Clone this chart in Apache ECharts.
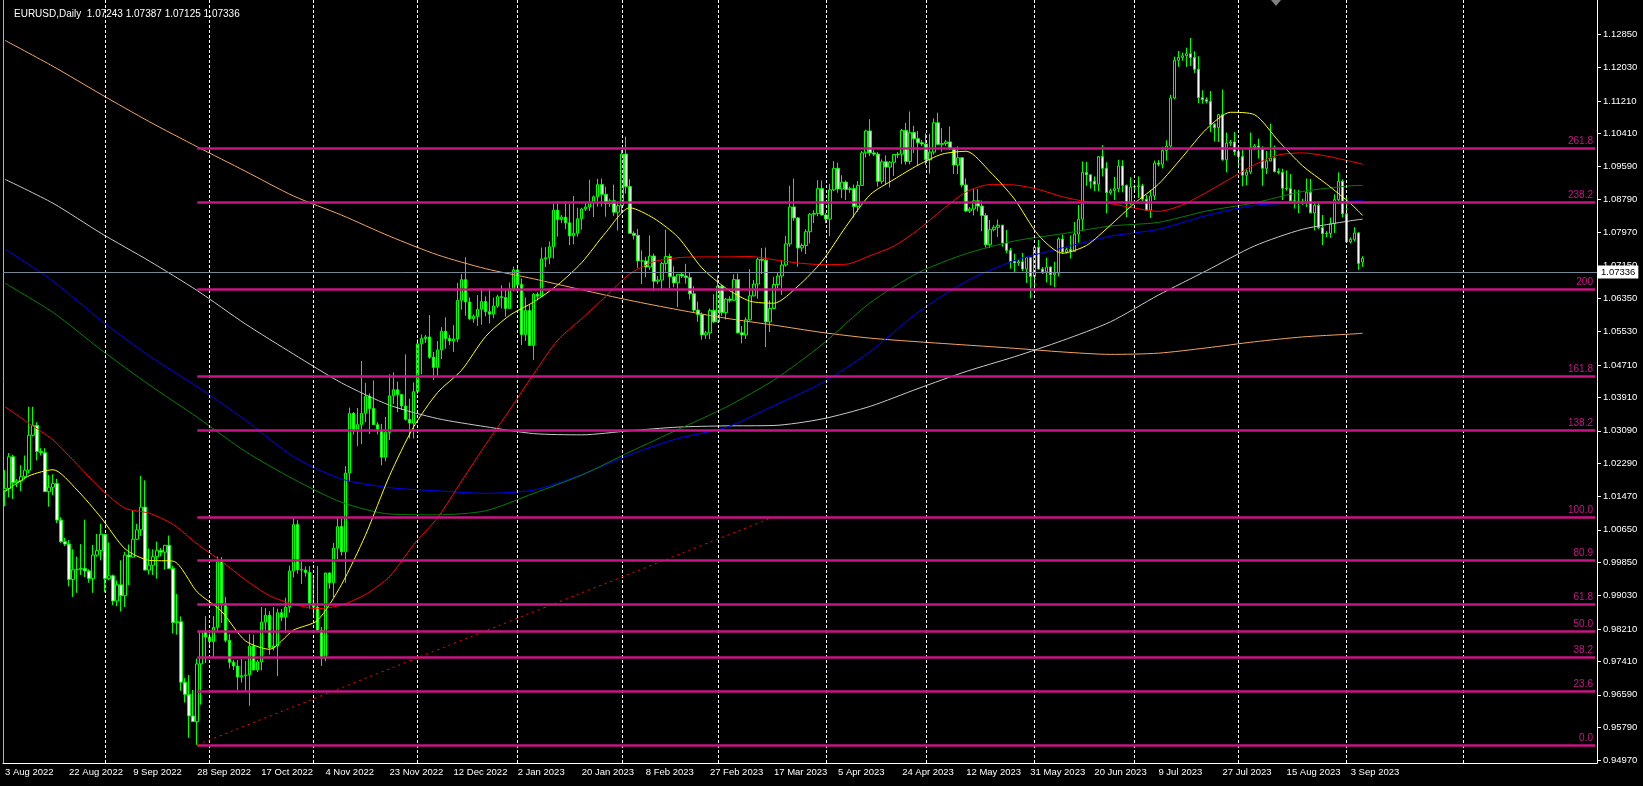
<!DOCTYPE html>
<html>
<head>
<meta charset="utf-8">
<title>EURUSD,Daily</title>
<script src="https://cdn.jsdelivr.net/npm/echarts@6/dist/echarts.min.js"></script>
<style>
html, body { margin: 0; padding: 0; background: #000; }
#chart { width: 1643px; height: 786px; }
</style>
</head>
<body>
<div id="chart"></div>
<script>
// daily bars, broker week Sun..Fri (short Sunday bars), [open, high, low, close]
const bars = [
  [1.0162,1.0212,1.0123,1.0167],[1.0167,1.0254,1.0145,1.0245],[1.0245,1.0250,1.0141,1.0181],[1.0181,1.0190,1.0170,1.0185],
  [1.0185,1.0224,1.0160,1.0196],[1.0196,1.0248,1.0189,1.0212],[1.0212,1.0368,1.0204,1.0298],[1.0298,1.0368,1.0295,1.0322],
  [1.0322,1.0330,1.0236,1.0258],[1.0258,1.0266,1.0248,1.0255],[1.0255,1.0266,1.0160,1.0159],[1.0159,1.0200,1.0122,1.0170],
  [1.0170,1.0202,1.0150,1.0179],[1.0179,1.0191,1.0082,1.0089],[1.0089,1.0096,1.0033,1.0036],[1.0036,1.0045,1.0025,1.0030],
  [1.0030,1.0040,0.9926,0.9943],[0.9943,1.0017,0.9900,0.9967],[0.9967,0.9999,0.9910,0.9968],[0.9968,1.0030,0.9954,0.9970],
  [0.9970,1.0090,0.9949,0.9964],[0.9964,0.9968,0.9935,0.9945],[0.9945,1.0028,0.9910,1.0003],[1.0003,1.0055,0.9999,1.0014],
  [1.0014,1.0080,0.9990,1.0054],[1.0054,1.0055,0.9911,0.9945],[0.9945,1.0034,0.9941,0.9952],[0.9952,0.9955,0.9880,0.9890],
  [0.9890,0.9940,0.9877,0.9930],[0.9930,0.9990,0.9864,0.9903],[0.9903,1.0011,0.9875,1.0003],[1.0003,1.0029,0.9929,0.9998],
  [0.9998,1.0113,0.9997,1.0042],[1.0042,1.0080,1.0040,1.0065],[1.0065,1.0198,1.0050,1.0121],[1.0121,1.0187,0.9966,0.9966],
  [0.9966,1.0019,0.9955,0.9978],[0.9978,1.0017,0.9954,0.9999],[0.9999,1.0036,0.9945,1.0014],[1.0014,1.0020,1.0000,1.0010],
  [1.0010,1.0028,0.9967,1.0027],[1.0027,1.0051,0.9970,0.9970],[0.9970,0.9976,0.9810,0.9837],[0.9837,0.9907,0.9807,0.9839],
  [0.9839,0.9852,0.9669,0.9690],[0.9690,0.9700,0.9640,0.9660],[0.9660,0.9708,0.9553,0.9607],[0.9607,0.9671,0.9592,0.9593],
  [0.9593,0.9748,0.9536,0.9735],[0.9735,0.9815,0.9635,0.9815],[0.9815,0.9853,0.9737,0.9801],[0.9801,0.9810,0.9780,0.9790],
  [0.9790,0.9853,0.9750,0.9825],[0.9825,0.9999,0.9815,0.9987],[0.9987,0.9998,0.9836,0.9883],[0.9883,0.9900,0.9788,0.9793],
  [0.9793,0.9809,0.9724,0.9739],[0.9739,0.9745,0.9720,0.9730],[0.9730,0.9745,0.9671,0.9703],[0.9703,0.9747,0.9689,0.9706],
  [0.9706,0.9742,0.9668,0.9708],[0.9708,0.9809,0.9632,0.9779],[0.9779,0.9807,0.9720,0.9720],[0.9720,0.9745,0.9715,0.9740],
  [0.9740,0.9875,0.9719,0.9838],[0.9838,0.9873,0.9817,0.9855],[0.9855,0.9865,0.9758,0.9775],[0.9775,0.9875,0.9768,0.9779],
  [0.9779,0.9871,0.9705,0.9861],[0.9861,0.9870,0.9840,0.9850],[0.9850,0.9898,0.9811,0.9875],[0.9875,0.9977,0.9861,0.9964],
  [0.9964,1.0094,0.9948,1.0078],[1.0078,1.0089,0.9957,0.9967],[0.9967,0.9987,0.9932,0.9966],[0.9966,0.9975,0.9950,0.9960],
  [0.9960,0.9976,0.9871,0.9883],[0.9883,0.9953,0.9850,0.9875],[0.9875,0.9976,0.9813,0.9818],[0.9818,0.9826,0.9730,0.9749],
  [0.9749,0.9958,0.9742,0.9959],[0.9959,0.9960,0.9920,0.9935],[0.9935,1.0033,0.9899,1.0020],[1.0020,1.0094,0.9993,1.0073],
  [1.0073,1.0093,1.0002,1.0011],[1.0011,1.0222,0.9935,1.0205],[1.0205,1.0366,1.0183,1.0352],[1.0352,1.0355,1.0300,1.0310],
  [1.0310,1.0365,1.0271,1.0324],[1.0324,1.0481,1.0276,1.0352],[1.0352,1.0427,1.0330,1.0394],[1.0394,1.0401,1.0301,1.0364],
  [1.0364,1.0433,1.0325,1.0324],[1.0324,1.0330,1.0300,1.0310],[1.0310,1.0326,1.0224,1.0244],[1.0244,1.0343,1.0234,1.0305],
  [1.0305,1.0448,1.0286,1.0395],[1.0395,1.0453,1.0375,1.0410],[1.0410,1.0430,1.0355,1.0398],[1.0398,1.0400,1.0360,1.0370],
  [1.0370,1.0497,1.0334,1.0337],[1.0337,1.0388,1.0290,1.0328],[1.0328,1.0428,1.0290,1.0405],[1.0405,1.0534,1.0400,1.0523],
  [1.0523,1.0546,1.0448,1.0536],[1.0536,1.0545,1.0525,1.0540],[1.0540,1.0594,1.0486,1.0490],[1.0490,1.0503,1.0434,1.0465],
  [1.0465,1.0530,1.0444,1.0508],[1.0508,1.0564,1.0485,1.0554],[1.0554,1.0588,1.0511,1.0536],[1.0536,1.0545,1.0520,1.0530],
  [1.0530,1.0569,1.0503,1.0535],[1.0535,1.0673,1.0527,1.0630],[1.0630,1.0695,1.0607,1.0681],[1.0681,1.0736,1.0592,1.0626],
  [1.0626,1.0637,1.0581,1.0585],[1.0585,1.0595,1.0575,1.0590],[1.0590,1.0643,1.0567,1.0608],[1.0608,1.0660,1.0570,1.0627],
  [1.0627,1.0640,1.0591,1.0602],[1.0602,1.0660,1.0573,1.0596],[1.0596,1.0637,1.0586,1.0616],[1.0616,1.0644,1.0612,1.0639],
  [1.0639,1.0667,1.0610,1.0637],[1.0637,1.0657,1.0590,1.0610],[1.0610,1.0674,1.0609,1.0658],[1.0658,1.0713,1.0652,1.0705],
  [1.0705,1.0713,1.0653,1.0669],[1.0669,1.0684,1.0520,1.0546],[1.0546,1.0637,1.0530,1.0605],[1.0605,1.0619,1.0521,1.0519],
  [1.0519,1.0648,1.0483,1.0645],[1.0645,1.0650,1.0630,1.0640],[1.0640,1.0760,1.0640,1.0732],[1.0732,1.0761,1.0712,1.0735],
  [1.0735,1.0775,1.0719,1.0762],[1.0762,1.0868,1.0733,1.0852],[1.0852,1.0874,1.0787,1.0829],[1.0829,1.0840,1.0820,1.0835],
  [1.0835,1.0874,1.0805,1.0821],[1.0821,1.0867,1.0766,1.0789],[1.0789,1.0887,1.0768,1.0795],[1.0795,1.0858,1.0787,1.0831],
  [1.0831,1.0858,1.0804,1.0855],[1.0855,1.0870,1.0850,1.0860],[1.0860,1.0927,1.0850,1.0871],[1.0871,1.0888,1.0835,1.0885],
  [1.0885,1.0929,1.0861,1.0915],[1.0915,1.0930,1.0861,1.0891],[1.0891,1.0910,1.0836,1.0868],[1.0868,1.0880,1.0860,1.0875],
  [1.0875,1.0915,1.0838,1.0847],[1.0847,1.0874,1.0802,1.0863],[1.0863,1.1000,1.0845,1.0990],[1.0990,1.1033,1.0893,1.0910],
  [1.0910,1.0928,1.0794,1.0795],[1.0795,1.0800,1.0780,1.0790],[1.0790,1.0806,1.0710,1.0727],[1.0727,1.0753,1.0670,1.0727],
  [1.0727,1.0737,1.0687,1.0712],[1.0712,1.0790,1.0705,1.0739],[1.0739,1.0745,1.0653,1.0677],[1.0677,1.0690,1.0670,1.0680],
  [1.0680,1.0725,1.0655,1.0721],[1.0721,1.0804,1.0701,1.0738],[1.0738,1.0745,1.0660,1.0688],[1.0688,1.0714,1.0662,1.0673],
  [1.0673,1.0694,1.0613,1.0694],[1.0694,1.0700,1.0685,1.0690],[1.0690,1.0720,1.0671,1.0686],[1.0686,1.0700,1.0632,1.0646],
  [1.0646,1.0665,1.0600,1.0606],[1.0606,1.0627,1.0577,1.0595],[1.0595,1.0600,1.0533,1.0545],[1.0545,1.0555,1.0535,1.0550],
  [1.0550,1.0610,1.0534,1.0605],[1.0605,1.0645,1.0574,1.0577],[1.0577,1.0691,1.0576,1.0665],[1.0665,1.0668,1.0592,1.0600],
  [1.0600,1.0636,1.0583,1.0633],[1.0633,1.0640,1.0625,1.0630],[1.0630,1.0694,1.0630,1.0681],[1.0681,1.0696,1.0548,1.0550],
  [1.0550,1.0567,1.0524,1.0545],[1.0545,1.0588,1.0535,1.0582],[1.0582,1.0707,1.0580,1.0641],[1.0641,1.0680,1.0640,1.0670],
  [1.0670,1.0736,1.0634,1.0731],[1.0731,1.0759,1.0695,1.0729],[1.0729,1.0760,1.0515,1.0577],[1.0577,1.0630,1.0552,1.0610],
  [1.0610,1.0688,1.0612,1.0669],[1.0669,1.0700,1.0660,1.0690],[1.0690,1.0728,1.0643,1.0717],[1.0717,1.0789,1.0713,1.0769],
  [1.0769,1.0912,1.0762,1.0860],[1.0860,1.0930,1.0826,1.0833],[1.0833,1.0835,1.0713,1.0759],[1.0759,1.0770,1.0750,1.0765],
  [1.0765,1.0805,1.0744,1.0799],[1.0799,1.0845,1.0770,1.0842],[1.0842,1.0852,1.0820,1.0844],[1.0844,1.0926,1.0837,1.0905],
  [1.0905,1.0925,1.0839,1.0840],[1.0840,1.0845,1.0820,1.0830],[1.0830,1.0917,1.0788,1.0902],[1.0902,1.0973,1.0899,1.0955],
  [1.0955,1.0969,1.0895,1.0904],[1.0904,1.0938,1.0882,1.0921],[1.0921,1.0925,1.0877,1.0903],[1.0903,1.0910,1.0895,1.0905],
  [1.0905,1.0915,1.0834,1.0861],[1.0861,1.0924,1.0848,1.0913],[1.0913,1.0998,1.0914,1.0993],[1.0993,1.1050,1.0982,1.1047],
  [1.1047,1.1076,1.0985,1.0993],[1.0993,1.1000,1.0985,1.0990],[1.0990,1.0995,1.0910,1.0923],[1.0923,1.0977,1.0917,1.0971],
  [1.0971,1.0987,1.0914,1.0958],[1.0958,1.0973,1.0908,1.0970],[1.0970,1.0990,1.0936,1.0989],[1.0989,1.0995,1.0980,1.0990],
  [1.0990,1.1052,1.0965,1.1048],[1.1048,1.1067,1.0964,1.0972],[1.0972,1.1095,1.0965,1.1043],[1.1043,1.1060,1.0993,1.1028],
  [1.1028,1.1047,1.0961,1.1018],[1.1018,1.1025,1.1010,1.1015],[1.1015,1.1041,1.0963,1.0976],[1.0976,1.1040,1.0942,1.0995],
  [1.0995,1.1078,1.0989,1.1067],[1.1067,1.1092,1.1012,1.1014],[1.1014,1.1054,1.0996,1.1016],[1.1016,1.1025,1.1010,1.1020],
  [1.1020,1.1058,1.1000,1.1004],[1.1004,1.1006,1.0941,1.0963],[1.0963,1.1009,1.0941,1.0981],[1.0981,1.0981,1.0908,1.0914],
  [1.0914,1.0930,1.0847,1.0850],[1.0850,1.0860,1.0845,1.0855],[1.0855,1.0904,1.0839,1.0875],[1.0875,1.0904,1.0849,1.0862],
  [1.0862,1.0876,1.0800,1.0839],[1.0839,1.0845,1.0760,1.0767],[1.0767,1.0828,1.0759,1.0804],[1.0804,1.0815,1.0800,1.0810],
  [1.0810,1.0829,1.0786,1.0815],[1.0815,1.0816,1.0762,1.0771],[1.0771,1.0803,1.0746,1.0753],[1.0753,1.0759,1.0708,1.0726],
  [1.0726,1.0745,1.0700,1.0722],[1.0722,1.0730,1.0715,1.0725],[1.0725,1.0747,1.0702,1.0707],[1.0707,1.0736,1.0673,1.0735],
  [1.0735,1.0736,1.0635,1.0689],[1.0689,1.0765,1.0664,1.0761],[1.0761,1.0779,1.0706,1.0707],[1.0707,1.0712,1.0695,1.0700],
  [1.0700,1.0735,1.0674,1.0712],[1.0712,1.0713,1.0667,1.0693],[1.0693,1.0725,1.0662,1.0697],[1.0697,1.0785,1.0689,1.0781],
  [1.0781,1.0792,1.0745,1.0749],[1.0749,1.0760,1.0745,1.0755],[1.0755,1.0790,1.0733,1.0751],[1.0751,1.0823,1.0750,1.0793],
  [1.0793,1.0865,1.0772,1.0830],[1.0830,1.0972,1.0802,1.0945],[1.0945,1.0971,1.0912,1.0939],[1.0939,1.0939,1.0905,1.0923],
  [1.0923,1.0935,1.0899,1.0916],[1.0916,1.0984,1.0898,1.0984],[1.0984,1.1012,1.0935,1.0955],[1.0955,1.0970,1.0844,1.0895],
  [1.0895,1.0905,1.0890,1.0900],[1.0900,1.0934,1.0877,1.0905],[1.0905,1.0976,1.0896,1.0961],[1.0961,1.0975,1.0896,1.0913],
  [1.0913,1.0915,1.0835,1.0868],[1.0868,1.0933,1.0865,1.0909],[1.0909,1.0915,1.0900,1.0910],[1.0910,1.0935,1.0882,1.0912],
  [1.0912,1.0917,1.0873,1.0879],[1.0879,1.0889,1.0851,1.0852],[1.0852,1.0902,1.0833,1.0887],[1.0887,1.0974,1.0877,1.0968],
  [1.0968,1.0975,1.0960,1.0965],[1.0965,1.1008,1.0955,1.0999],[1.0999,1.1024,1.0974,1.1010],[1.1010,1.1136,1.1001,1.1128],
  [1.1128,1.1230,1.1125,1.1221],[1.1221,1.1244,1.1205,1.1228],[1.1228,1.1240,1.1220,1.1232],[1.1232,1.1252,1.1205,1.1237],
  [1.1237,1.1276,1.1207,1.1228],[1.1228,1.1243,1.1190,1.1199],[1.1199,1.1231,1.1115,1.1129],[1.1129,1.1147,1.1114,1.1124],
  [1.1124,1.1130,1.1115,1.1120],[1.1120,1.1145,1.1044,1.1063],[1.1063,1.1066,1.1021,1.1055],[1.1055,1.1089,1.1020,1.1087],
  [1.1087,1.1149,1.0974,1.0976],[1.0976,1.1043,1.0945,1.1017],[1.1017,1.1025,1.1010,1.1020],[1.1020,1.1045,1.0987,1.0996],
  [1.0996,1.1008,1.0955,1.0984],[1.0984,1.1000,1.0911,1.0938],[1.0938,1.0954,1.0913,1.0946],[1.0946,1.1043,1.0941,1.1006],
  [1.1006,1.1015,1.1000,1.1010],[1.1010,1.1028,1.0979,1.1004],[1.1004,1.1009,1.0912,1.0955],[1.0955,1.0998,1.0941,1.0973],
  [1.0973,1.1065,1.0973,1.0980],[1.0980,1.1011,1.0945,1.0947],[1.0947,1.0955,1.0940,1.0945],[1.0945,1.0954,1.0877,1.0906],
  [1.0906,1.0950,1.0900,1.0905],[1.0905,1.0941,1.0875,1.0875],[1.0875,1.0903,1.0856,1.0874],[1.0874,1.0902,1.0845,1.0873],
  [1.0873,1.0880,1.0865,1.0870],[1.0870,1.0930,1.0860,1.0896],[1.0896,1.0929,1.0848,1.0845],[1.0845,1.0873,1.0802,1.0864],
  [1.0864,1.0874,1.0805,1.0809],[1.0809,1.0840,1.0766,1.0794],[1.0794,1.0800,1.0785,1.0795],[1.0795,1.0834,1.0784,1.0818],
  [1.0818,1.0891,1.0796,1.0878],[1.0878,1.0945,1.0868,1.0923],[1.0923,1.0928,1.0834,1.0843],[1.0843,1.0882,1.0771,1.0774],
  [1.0774,1.0785,1.0770,1.0780],[1.0780,1.0810,1.0775,1.0796],[1.0796,1.0798,1.0705,1.0721],[1.07243,1.07387,1.07125,1.07336]
];

// one date label every 16 bars
const dateTicks = ["3 Aug 2022", "22 Aug 2022", "9 Sep 2022", "28 Sep 2022", "17 Oct 2022", "4 Nov 2022",
  "23 Nov 2022", "12 Dec 2022", "2 Jan 2023", "20 Jan 2023", "8 Feb 2023", "27 Feb 2023", "17 Mar 2023",
  "5 Apr 2023", "24 Apr 2023", "12 May 2023", "31 May 2023", "20 Jun 2023", "9 Jul 2023", "27 Jul 2023",
  "15 Aug 2023", "3 Sep 2023"];
const labelStep = 16;

const priceTicks = [0.94970, 0.95790, 0.96590, 0.97410, 0.98210, 0.99030, 0.99850, 1.00650, 1.01470,
  1.02290, 1.03090, 1.03910, 1.04710, 1.05530, 1.06350, 1.07150, 1.07970, 1.08790, 1.09590, 1.10410,
  1.11210, 1.12030, 1.12850];

// bars where a month starts (dotted grid)
const monthStartIdx = [25, 51, 77, 103, 128, 154, 178, 205, 230, 257, 282, 308, 335, 364];

// fibonacci drawn from the Sep 28 low
const fibRatios = [0, 23.6, 38.2, 50, 61.8, 80.9, 100, 138.2, 161.8, 200, 238.2, 261.8];
const fibLabels = ["0.0", "23.6", "38.2", "50.0", "61.8", "80.9", "100.0", "138.2", "161.8", "200", "238.2", "261.8"];
const fibFrom = [48, 0.9536];
const fibTo = [192, 1.0097];

// moving averages at these bar indexes
const slowIdx = [0, 12, 24, 36, 48, 60, 72, 84, 96, 108, 120, 132, 144, 156, 168, 180, 192, 204, 216, 228,
  240, 252, 264, 276, 288, 300, 312, 324, 336, 339];
const maOrange = [1.1270, 1.1206, 1.1137, 1.1070, 1.1008, 1.0948, 1.0887, 1.0840, 1.0788, 1.0742, 1.0708,
  1.0683, 1.0656, 1.0630, 1.0607, 1.0586, 1.0569, 1.0551, 1.0537, 1.0528, 1.0520, 1.0512, 1.0503, 1.0497,
  1.0500, 1.0513, 1.0528, 1.0540, 1.0547, 1.0549];
const maWhite = [1.0928, 1.0869, 1.0795, 1.0727, 1.0654, 1.0572, 1.0498, 1.0427, 1.0372, 1.0339, 1.0319,
  1.0302, 1.0299, 1.0309, 1.0318, 1.0321, 1.0322, 1.0338, 1.0369, 1.0413, 1.0455, 1.0491, 1.0531, 1.0577,
  1.0643, 1.0703, 1.0764, 1.0805, 1.0826, 1.0830];
const maBlue = [1.0756, 1.0677, 1.0580, 1.0493, 1.0417, 1.0335, 1.0245, 1.0190, 1.0169, 1.0161, 1.0155,
  1.0163, 1.0201, 1.0250, 1.0290, 1.0317, 1.0371, 1.0427, 1.0504, 1.0601, 1.0677, 1.0728, 1.0759, 1.0788,
  1.0805, 1.0839, 1.0864, 1.0870, 1.0874, 1.0875];
const maGreen = [1.0672, 1.0600, 1.0508, 1.0422, 1.0342, 1.0258, 1.0190, 1.0133, 1.0104, 1.0102, 1.0112,
  1.0155, 1.0200, 1.0257, 1.0312, 1.0367, 1.0434, 1.0521, 1.0624, 1.0698, 1.0745, 1.0776, 1.0794, 1.0813,
  1.0822, 1.0850, 1.0870, 1.0898, 1.0912, 1.0913];

const fastIdx = [0, 6, 12, 18, 24, 30, 36, 42, 48, 54, 60, 66, 72, 78, 84, 90, 96, 102, 108, 114, 120, 126,
  132, 138, 144, 150, 156, 162, 168, 174, 180, 186, 192, 198, 204, 210, 216, 222, 228, 234, 240, 246, 252,
  258, 264, 270, 276, 282, 288, 294, 300, 306, 312, 318, 324, 330, 336, 339];
const maRed = [1.0368, 1.0327, 1.0286, 1.0226, 1.0165, 1.0118, 1.0106, 1.0078, 1.0030, 0.9988, 0.9942,
  0.9903, 0.9882, 0.9871, 0.9880, 0.9906, 0.9950, 1.0028, 1.0095, 1.0185, 1.0275, 1.0360, 1.0449, 1.0532,
  1.0585, 1.0640, 1.0695, 1.0725, 1.0735, 1.0737, 1.0737, 1.0738, 1.0730, 1.0722, 1.0718, 1.0719, 1.0740,
  1.0764, 1.0804, 1.0853, 1.0897, 1.0915, 1.0914, 1.0903, 1.0885, 1.0873, 1.0868, 1.0857, 1.0849, 1.0865,
  1.0896, 1.0930, 1.0964, 1.0988, 1.0993, 1.0985, 1.0972, 1.0965];
const maYellow = [1.0159, 1.0198, 1.0213, 1.0163, 1.0095, 1.0018, 0.9990, 0.9988, 0.9912, 0.9865, 0.9792,
  0.9771, 0.9818, 0.9842, 0.9930, 1.0052, 1.0198, 1.0318, 1.0403, 1.0458, 1.0541, 1.0593, 1.0626, 1.0668,
  1.0723, 1.0797, 1.0858, 1.0832, 1.0786, 1.0710, 1.0660, 1.0628, 1.0623, 1.0665, 1.0726, 1.0812, 1.0890,
  1.0928, 1.0963, 1.0990, 1.0997, 1.0946, 1.0880, 1.0791, 1.0746, 1.0765, 1.0815, 1.0869, 1.0916, 1.0983,
  1.1052, 1.1093, 1.1087, 1.1022, 1.0961, 1.0916, 1.0868, 1.0839];

// chart keeps empty room on the right (chart shift)
const totalSlots = 398;
const FONT = "Liberation Sans";
const FIB_COLOR = "#C71585";

const categories = Array.from({ length: totalSlots }, (_, i) => String(i));
const lastIdx = bars.length - 1;
const lastClose = bars[lastIdx][3];

const isDateTick = (i) => i % labelStep === 0 && i <= lastIdx;

const maSeries = (name, idx, values, color, z) => ({
  name: name,
  type: "line",
  data: idx.map((i, k) => [i, values[k]]),
  showSymbol: false,
  smooth: 0.25,
  lineStyle: { color: color, width: 1 },
  z: z,
  silent: true,
});

const fibLines = fibRatios.map((r, k) => {
  const level = fibFrom[1] + (fibTo[1] - fibFrom[1]) * r / 100;
  return [
    { name: fibLabels[k], coord: [fibFrom[0], level] },
    { coord: [totalSlots - 1, level] },
  ];
});

const chart = echarts.init(document.getElementById("chart"));
chart.setOption({
  backgroundColor: "#000",
  animation: false,
  textStyle: { fontFamily: FONT },
  title: {
    text: "EURUSD,Daily  " + bars[lastIdx].map((v) => v.toFixed(5)).join(" "),
    left: 9,
    top: 4,
    textStyle: { color: "#fff", fontSize: 10, fontWeight: "normal", fontFamily: FONT },
  },
  grid: { left: 3, right: 46, top: 0, bottom: 23 },
  xAxis: {
    type: "category",
    data: categories,
    boundaryGap: true,
    axisLine: { lineStyle: { color: "#fff", width: 1 } },
    axisTick: {
      interval: (i) => isDateTick(i),
      alignWithLabel: true,
      length: 4,
      lineStyle: { color: "#fff" },
    },
    axisLabel: {
      interval: (i) => isDateTick(i),
      formatter: (v, i) => dateTicks[i / labelStep] || "",
      color: "#fff",
      fontSize: 9.5,
      fontFamily: FONT,
      align: "left",
      margin: 4,
    },
    splitLine: { show: false },
  },
  yAxis: {
    type: "value",
    position: "right",
    min: 0.94911,
    max: 1.13694,
    axisLine: { show: true, onZero: false, lineStyle: { color: "#fff", width: 1 } },
    axisTick: { show: true, customValues: priceTicks, length: 4, lineStyle: { color: "#fff" } },
    axisLabel: {
      customValues: priceTicks,
      formatter: (v) => v.toFixed(5),
      color: "#fff",
      fontSize: 9.5,
      fontFamily: FONT,
      margin: 6,
    },
    splitLine: { show: false },
  },
  graphic: [
    { type: "line", shape: { x1: 3.5, y1: 0, x2: 3.5, y2: 763 }, style: { stroke: "#b0b0b0", lineWidth: 1 }, silent: true },
    { type: "polygon", shape: { points: [[1271, 0], [1281, 0], [1276, 6]] }, style: { fill: "#808080" }, silent: true },
  ],
  series: [
    {
      // dotted month grid
      type: "line",
      data: [],
      z: 1,
      silent: true,
      markLine: {
        silent: true,
        symbol: "none",
        animation: false,
        label: { show: false },
        lineStyle: { color: "#fff", width: 1, type: [3, 2] },
        data: monthStartIdx.map((i) => ({ xAxis: i })),
      },
    },
    {
      // fibonacci levels
      type: "line",
      data: [],
      z: 2,
      silent: true,
      markLine: {
        silent: true,
        symbol: "none",
        animation: false,
        lineStyle: { color: FIB_COLOR, width: 2.5, type: "solid" },
        label: {
          show: true,
          position: "insideEndTop",
          formatter: "{b}",
          color: FIB_COLOR,
          fontSize: 10,
          fontFamily: FONT,
          distance: 2,
        },
        data: fibLines,
      },
    },
    {
      // fibonacci trend line
      type: "line",
      data: [],
      z: 2,
      silent: true,
      markLine: {
        silent: true,
        symbol: "none",
        animation: false,
        label: { show: false },
        lineStyle: { color: "#ff0000", width: 1, type: [2, 4] },
        data: [[{ coord: fibFrom }, { coord: fibTo }]],
      },
    },
    {
      name: "EURUSD",
      type: "candlestick",
      data: bars.map((b) => [b[0], b[3], b[2], b[1]]),
      barWidth: 3,
      z: 3,
      itemStyle: {
        color: "#000000",
        color0: "#ffffff",
        borderColor: "#00ff00",
        borderColor0: "#00ff00",
        borderWidth: 1,
      },
    },
    maSeries("MA orange", slowIdx, maOrange, "#F4A460", 4),
    maSeries("MA white", slowIdx, maWhite, "#C8C8C8", 4),
    maSeries("MA blue", slowIdx, maBlue, "#0000FF", 4),
    maSeries("MA green", slowIdx, maGreen, "#008000", 4),
    maSeries("MA red", fastIdx, maRed, "#FF0000", 4),
    maSeries("MA yellow", fastIdx, maYellow, "#FFFF00", 4),
    {
      // bid line
      type: "line",
      data: [],
      z: 5,
      silent: true,
      markLine: {
        silent: true,
        symbol: "none",
        animation: false,
        lineStyle: { color: "#778899", width: 1, type: "solid" },
        label: {
          show: true,
          position: "end",
          formatter: lastClose.toFixed(5),
          color: "#000",
          backgroundColor: "#fff",
          padding: [2, 3, 1, 3],
          fontSize: 9.5,
          fontFamily: FONT,
          distance: 1,
        },
        data: [{ yAxis: lastClose }],
      },
    },
  ],
});
</script>
</body>
</html>
